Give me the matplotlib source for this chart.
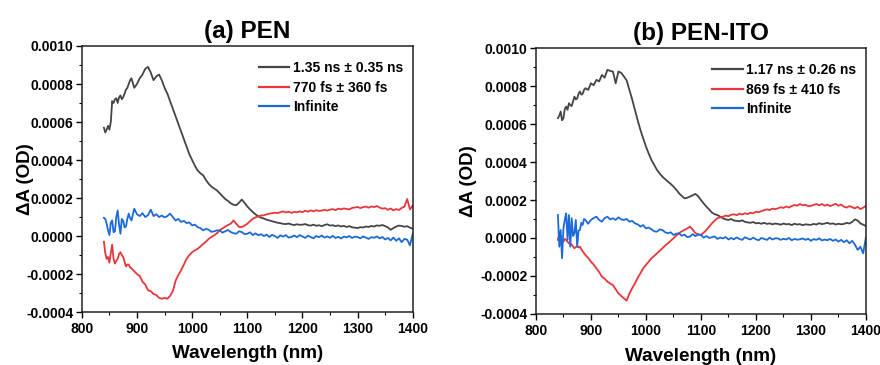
import numpy as np
import matplotlib
matplotlib.use("Agg")
import matplotlib.pyplot as plt
from matplotlib.ticker import MultipleLocator, FormatStrFormatter

plt.rcParams['font.family'] = ['Liberation Sans', 'DejaVu Sans']
plt.rcParams['font.weight'] = 'bold'

# Probe wavelength grid (nm): finer sampling at the noisy short-wavelength edge
wavelength = np.concatenate([np.arange(840, 890, 2.5), np.arange(890, 1401, 5)])

# Decay-associated spectra, units of 1e-4 OD
pen_slow = [
    5.7, 5.45, 5.6, 5.8, 5.6, 6.0, 7.1, 7.0, 7.2, 7.25, 7.0, 7.3, 7.4, 7.2, 7.3, 7.5, 7.7, 7.8, 8.0, 8.2,
    8.3, 7.8, 8.0, 8.3, 8.5, 8.8, 8.9, 8.6, 8.2, 8.4,
    8.5, 8.2, 7.8, 7.5, 7.1, 6.7, 6.3, 5.9, 5.5, 5.1,
    4.7, 4.3, 4.0, 3.7, 3.45, 3.3, 3.2, 2.95, 2.75, 2.6,
    2.5, 2.4, 2.25, 2.1, 1.95, 1.85, 1.72, 1.65, 1.62, 1.75,
    1.92, 1.75, 1.56, 1.4, 1.26, 1.14, 1.04, 0.97, 0.92, 0.86,
    0.82, 0.78, 0.74, 0.70, 0.68, 0.64, 0.63, 0.66, 0.61, 0.58,
    0.62, 0.59, 0.60, 0.63, 0.57, 0.55, 0.60, 0.54, 0.57, 0.52,
    0.58, 0.62, 0.55, 0.57, 0.52, 0.56, 0.50, 0.54, 0.48, 0.52,
    0.46, 0.44, 0.42, 0.47, 0.45, 0.50, 0.48, 0.53, 0.50, 0.56,
    0.54, 0.58, 0.52, 0.45, 0.33, 0.42, 0.50, 0.55, 0.53, 0.49,
    0.52, 0.44, 0.39]
pen_fast = [
    -0.3, -0.9, -1.2, -1.1, -1.4, -0.9, -0.45, -1.2, -1.45, -1.3, -1.2, -0.95, -0.85, -1.0, -1.1, -1.35, -1.6, -1.5, -1.5, -1.65,
    -1.7, -1.85, -2.0, -2.1, -2.4, -2.55, -2.85, -2.9, -3.05, -3.1,
    -3.25, -3.3, -3.25, -3.3, -3.15, -2.9, -2.35, -2.05, -1.8, -1.5,
    -1.2, -1.0, -0.85, -0.75, -0.67, -0.55, -0.42, -0.3, -0.15, -0.05,
    0.04, 0.15, 0.3, 0.4, 0.5, 0.58, 0.65, 0.82, 0.65, 0.48,
    0.47, 0.55, 0.65, 0.78, 0.91, 0.98, 1.04, 1.08, 1.09, 1.14,
    1.18, 1.2, 1.23, 1.21, 1.26, 1.3, 1.24, 1.28, 1.22, 1.27,
    1.25, 1.3, 1.26, 1.33, 1.28, 1.35, 1.3, 1.36, 1.32, 1.34,
    1.38, 1.34, 1.39, 1.42, 1.36, 1.44, 1.41, 1.45, 1.43, 1.40,
    1.48, 1.50, 1.53, 1.47, 1.52, 1.55, 1.49, 1.56, 1.52, 1.58,
    1.50, 1.44, 1.47, 1.38, 1.45, 1.35, 1.42, 1.37, 1.48, 1.55,
    1.95, 1.40, 1.61]
pen_inf = [
    0.96, 0.9, 0.65, 0.3, 0.05, 0.7, 0.82, 0.2, 0.25, 1.0, 1.35, 0.6, 0.12, 0.9, 0.8, 0.45, 0.5, 0.9, 1.18, 0.95,
    0.82, 1.44, 1.15, 1.05, 1.2, 1.0, 1.1, 1.39, 1.05, 1.15,
    1.0, 1.08, 0.98, 1.05, 1.18, 1.0, 0.82, 0.9, 0.74, 0.8,
    0.68, 0.72, 0.56, 0.6, 0.47, 0.42, 0.3, 0.38, 0.33, 0.22,
    0.25, 0.3, 0.3, 0.18, 0.25, 0.32, 0.21, 0.15, 0.12, 0.25,
    0.21, 0.1, 0.12, 0.2, 0.05, 0.14, 0.04, 0.1, 0.0, 0.08,
    -0.05, 0.06, 0.0, -0.1, 0.04, -0.03, 0.05, -0.08, -0.05, 0.03,
    -0.06, 0.05, -0.02, -0.1, 0.02, -0.05, -0.12, 0.0, -0.06, 0.03,
    -0.08, -0.02, -0.09, 0.01, -0.1, -0.04, -0.13, -0.03, -0.07, 0.0,
    -0.1, -0.03, -0.05, -0.12, -0.02, -0.08, -0.15, -0.06, -0.09, -0.02,
    -0.12, -0.05, -0.18, -0.1, -0.23, -0.08, -0.25, -0.12, -0.32, -0.15,
    -0.19, -0.49, 0.12]

ito_slow = [
    6.31, 6.45, 6.66, 6.2, 6.31, 6.8, 6.92, 6.75, 7.10, 7.0, 6.95, 7.2, 7.45, 7.3, 7.35, 7.6, 7.72, 7.55, 7.60, 7.8,
    7.89, 7.80, 8.15, 8.05, 8.33, 8.25, 8.59, 8.45, 8.86, 8.80,
    8.77, 8.15, 8.77, 8.70, 8.51, 8.30, 7.80, 7.30, 6.75, 6.20,
    5.69, 5.25, 4.82, 4.45, 4.11, 3.85, 3.59, 3.40, 3.23, 3.10,
    2.97, 2.85, 2.71, 2.55, 2.36, 2.22, 2.09, 2.12, 2.18, 2.25,
    2.32, 2.20, 2.00, 1.82, 1.65, 1.50, 1.34, 1.25, 1.21, 1.12,
    1.04, 0.98, 0.95, 1.00, 0.92, 0.90, 0.88, 0.93, 0.85, 0.82,
    0.80, 0.84, 0.77, 0.79, 0.75, 0.80, 0.74, 0.77, 0.72, 0.76,
    0.74, 0.70, 0.76, 0.72, 0.74, 0.68, 0.75, 0.71, 0.73, 0.67,
    0.72, 0.70, 0.69, 0.74, 0.71, 0.78, 0.73, 0.76, 0.80, 0.74,
    0.77, 0.71, 0.75, 0.72, 0.74, 0.80, 0.76, 0.85, 0.98, 0.92,
    0.77, 0.70, 0.63]
ito_fast = [
    -0.1, 0.25, 0.05, -0.15, -0.19, -0.05, -0.1, -0.2, -0.28, -0.3, -0.35, -0.45, -0.54, -0.48, -0.42, -0.5, -0.46, -0.6, -0.7, -0.8,
    -0.9, -1.05, -1.25, -1.4, -1.6, -1.8, -2.04, -2.15, -2.3, -2.4,
    -2.48, -2.7, -2.92, -3.05, -3.18, -3.3, -2.92, -2.65, -2.39, -2.1,
    -1.86, -1.6, -1.42, -1.25, -1.07, -0.95, -0.81, -0.68, -0.54, -0.4,
    -0.28, -0.15, -0.02, 0.12, 0.25, 0.35, 0.42, 0.5, 0.6, 0.45,
    0.25, 0.2, 0.16, 0.28, 0.42, 0.6, 0.77, 0.92, 1.04, 1.08,
    1.12, 1.18, 1.15, 1.22, 1.25, 1.2, 1.28, 1.24, 1.3, 1.26,
    1.33, 1.3, 1.39, 1.35, 1.42, 1.46, 1.51, 1.47, 1.55, 1.52,
    1.56, 1.62, 1.58, 1.66, 1.6, 1.68, 1.74, 1.7, 1.79, 1.72,
    1.75, 1.68, 1.69, 1.74, 1.79, 1.72, 1.79, 1.7, 1.76, 1.68,
    1.74, 1.8, 1.7, 1.76, 1.65, 1.6, 1.68, 1.62, 1.56, 1.64,
    1.52, 1.6, 1.69]
ito_inf = [
    1.21, -0.46, 0.42, -1.07, 0.5, 0.95, 1.3, -0.1, 1.21, -0.46, 1.04, 0.1, 0.25, 0.95, -0.46, 0.4, 0.42, 0.8, 0.69, 1.0,
    0.95, 0.75, 0.95, 1.05, 1.12, 0.95, 0.86, 1.05, 1.12, 0.98,
    1.04, 0.95, 1.09, 0.98, 0.95, 1.0, 0.86, 0.9, 0.77, 0.72,
    0.60, 0.68, 0.51, 0.55, 0.46, 0.35, 0.33, 0.45, 0.42, 0.3,
    0.25, 0.3, 0.16, 0.22, 0.25, 0.12, 0.18, 0.05, 0.07, 0.2,
    0.1, 0.18, 0.16, 0.02, 0.1, 0.0, 0.04, 0.08, -0.05, 0.02,
    -0.02, 0.05, -0.08, 0.0, -0.07, 0.03, -0.05, -0.1, 0.04, -0.03,
    -0.08, 0.02, -0.07, -0.12, 0.0, -0.05, -0.1, 0.02, -0.08, -0.02,
    -0.02, -0.1, -0.04, -0.08, 0.0, -0.12, -0.05, -0.09, -0.07, -0.02,
    -0.1, -0.04, -0.15, -0.06, -0.1, -0.02, -0.13, -0.08, -0.12, -0.05,
    -0.15, -0.08, -0.19, -0.1, -0.22, -0.12, -0.28, -0.15, -0.35, -0.63,
    -0.46, -0.81, 0.04]

titles = ["(a) PEN", "(b) PEN-ITO"]
labels_pen = ["1.35 ns \u00b1 0.35 ns", "770 fs \u00b1 360 fs", "Infinite"]
labels_ito = ["1.17 ns \u00b1 0.26 ns", "869 fs \u00b1 410 fs", "Infinite"]
colors = ["#454545", "#e8363c", "#1c6ad8"]

fig = plt.figure(figsize=(8.8, 3.65), dpi=100)
ax_a = fig.add_axes([0.093, 0.145, 0.376, 0.729])
ax_b = fig.add_axes([0.609, 0.140, 0.375, 0.728])

panels = [
    (ax_a, [pen_slow, pen_fast, pen_inf], labels_pen, titles[0], 6, -0.145),
    (ax_b, [ito_slow, ito_fast, ito_inf], labels_ito, titles[1], 7, -0.18),
]

for ax, series, labels, title, xpad, ylab_x in panels:
    for vals, lab, col in zip(series, labels, colors):
        ax.plot(wavelength, np.array(vals) * 1e-4, color=col, lw=1.3, label=lab)
    ax.set_xlim(800, 1400)
    ax.set_ylim(-0.0004, 0.0010)
    ax.xaxis.set_major_locator(MultipleLocator(100))
    ax.xaxis.set_minor_locator(MultipleLocator(50))
    ax.yaxis.set_major_locator(MultipleLocator(0.0002))
    ax.yaxis.set_minor_locator(MultipleLocator(0.0001))
    ax.yaxis.set_major_formatter(FormatStrFormatter('%.4f'))
    ax.tick_params(which='major', direction='out', length=4, width=1.0, labelsize=10)
    ax.tick_params(axis='y', which='major', pad=2)
    ax.tick_params(which='minor', direction='out', length=2.5, width=0.8)
    ax.tick_params(top=False, right=False, which='both')
    for lbl in ax.get_xticklabels() + ax.get_yticklabels():
        lbl.set_fontweight('bold')
    for sp in ax.spines.values():
        sp.set_linewidth(1.1)
        sp.set_color('#222222')
    ax.set_xlabel("Wavelength (nm)", fontsize=13.6, fontweight='bold', labelpad=xpad)
    ax.set_ylabel("\u0394A (OD)", fontsize=13.5, fontweight='bold')
    ax.yaxis.set_label_coords(ylab_x, 0.5)
    ax.set_title(title, fontsize=17.5, fontweight='bold', pad=6)
    leg = ax.legend(loc='upper right', bbox_to_anchor=(1.0, 0.98), frameon=False,
                    fontsize=10, handlelength=2.2, handletextpad=0.25,
                    labelspacing=0.4, borderaxespad=0.3)
    for t in leg.get_texts():
        t.set_fontweight('bold')
    for h in leg.get_lines():
        h.set_linewidth(1.6)

fig.savefig("out.png", dpi=100)
